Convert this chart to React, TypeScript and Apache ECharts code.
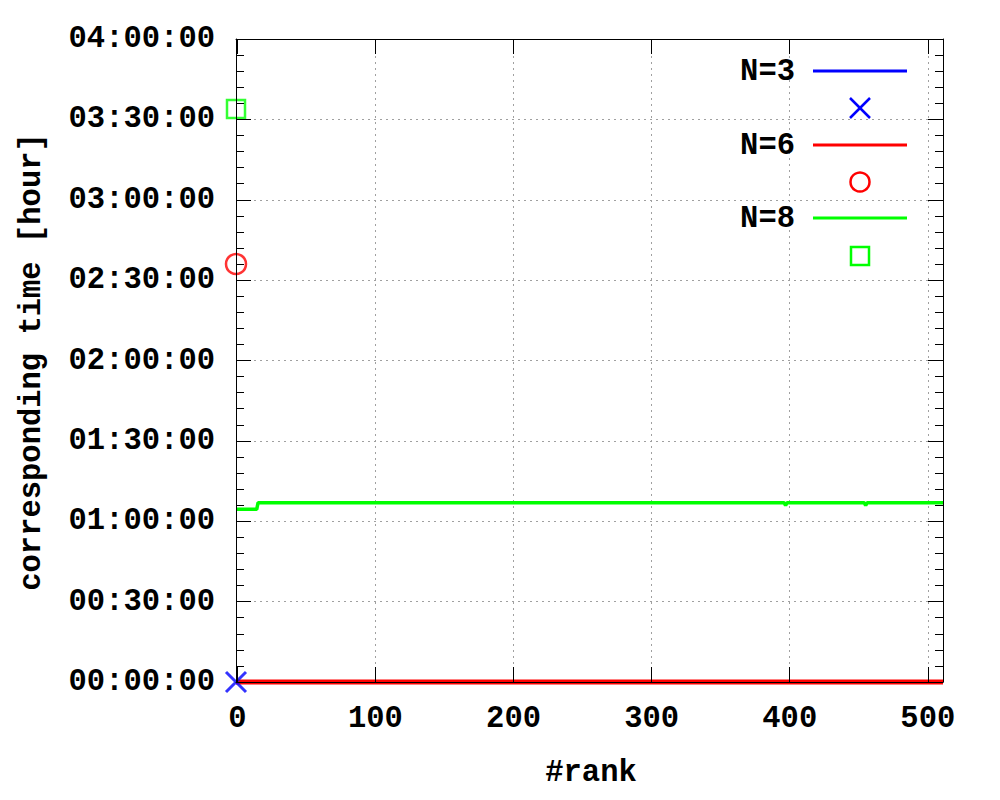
import React, { useEffect, useRef } from "react";
import * as echarts from "echarts";

const seriesNames = ["N=3", "N=6", "N=8"];
const seriesColors = ["#0000ff", "#ff0000", "#00ff00"];

const xTickValues = [0, 100, 200, 300, 400, 500];
const xGridValues = [100, 200, 300, 400, 500];
const yGridValues = [1800, 3600, 5400, 7200, 9000, 10800, 12600];

// [rank, seconds]
const n3Line = [[-1, 0], [511, 0]];
const n6Line = [[-1, 0], [511, 0]];
const n8Line = [
  [-1, 3867], [14, 3867], [15, 4015], [396, 4015], [397, 3950], [398, 4015],
  [454, 4015], [455, 3950], [456, 4015], [511, 4015],
];
const n3Points = [[-1, 0]];
const n6Points = [[-1, 9361]];
const n8Points = [[-1, 12832]];

const FONT = '"Liberation Mono", "DejaVu Sans Mono", monospace';
const FS = 30.5;

function hms(v: number) {
  const h = Math.floor(v / 3600);
  const m = Math.floor((v % 3600) / 60);
  const s = Math.floor(v % 60);
  const p = (n: number) => String(n).padStart(2, "0");
  return `${p(h)}:${p(m)}:${p(s)}`;
}

export default function App() {
  const ref = useRef<HTMLDivElement>(null);
  useEffect(() => {
    const chart = echarts.init(ref.current!, null, { renderer: "svg" });
    const gridStyle = { color: "#a0a0a0", width: 1, type: [2, 4] as any };
    const axisCommon = {
      min: -1,
      max: 511,
      z: 10,
      axisLine: { show: true, onZero: false, lineStyle: { color: "#000", width: 1 } },
      splitLine: { show: false },
    };
    const yCommon = {
      min: 0,
      max: 14400,
      interval: 1800,
      z: 10,
      axisLine: { show: true, onZero: false, lineStyle: { color: "#000", width: 1 } },
      axisTick: { show: true, inside: true, length: 15, lineStyle: { color: "#000", width: 1 } },
      minorTick: { show: true, splitNumber: 5, length: 8, lineStyle: { color: "#000", width: 1 } },
      splitLine: { show: false },
    };
    const legendEls: any[] = [];
    const legendYs = [71, 145, 218];
    const markerYs = [108, 182, 256];
    seriesNames.forEach((name, i) => {
      legendEls.push({
        type: "text",
        z: 20,
        style: {
          text: name, x: 795, y: legendYs[i] + 1, align: "right", verticalAlign: "middle",
          fontFamily: FONT, fontWeight: "bold", fontSize: FS, fill: "#000",
        },
      });
      legendEls.push({
        type: "line", z: 20,
        shape: { x1: 813, y1: legendYs[i], x2: 907, y2: legendYs[i] },
        style: { stroke: seriesColors[i], lineWidth: 3 },
      });
    });
    legendEls.push(
      { type: "line", z: 20, shape: { x1: 850, y1: 98, x2: 870, y2: 118 }, style: { stroke: seriesColors[0], lineWidth: 2.5 } },
      { type: "line", z: 20, shape: { x1: 870, y1: 98, x2: 850, y2: 118 }, style: { stroke: seriesColors[0], lineWidth: 2.5 } },
      { type: "circle", z: 20, shape: { cx: 860, cy: markerYs[1], r: 9.5 }, style: { fill: "none", stroke: seriesColors[1], lineWidth: 2.5 } },
      { type: "rect", z: 20, shape: { x: 851, y: markerYs[2] - 9, width: 18, height: 18 }, style: { fill: "none", stroke: seriesColors[2], lineWidth: 2.5 } }
    );

    chart.setOption({
      animation: false,
      grid: { left: 236, right: 57, top: 39, bottom: 118, containLabel: false },
      xAxis: [
        {
          ...axisCommon,
          type: "value",
          position: "bottom",
          axisTick: { show: true, inside: true, length: 15, customValues: xTickValues, lineStyle: { color: "#000" } },
          axisLabel: {
            show: true, customValues: xTickValues, margin: 21,
            fontFamily: FONT, fontWeight: "bold", fontSize: FS, color: "#000",
          },
        },
        {
          ...axisCommon,
          type: "value",
          position: "top",
          axisTick: { show: true, inside: true, length: 15, customValues: xTickValues, lineStyle: { color: "#000" } },
          axisLabel: { show: false },
        },
      ],
      yAxis: [
        {
          ...yCommon,
          type: "value",
          position: "left",
          axisLabel: {
            show: true, margin: 21, formatter: (v: number) => hms(v),
            fontFamily: FONT, fontWeight: "bold", fontSize: FS, color: "#000",
          },
        },
        {
          ...yCommon,
          type: "value",
          position: "right",
          axisLabel: { show: false },
        },
      ],
      graphic: [
        { type: "rect", z: 1, shape: { x: 740, y: 45, width: 187, height: 230 }, style: { fill: "#fff" } },
        ...legendEls,
        {
          type: "text", z: 20, x: 32, y: 362, rotation: Math.PI / 2,
          style: {
            text: "corresponding time [hour]", x: 0, y: 0, align: "center", verticalAlign: "middle",
            fontFamily: FONT, fontWeight: "bold", fontSize: FS, fill: "#000",
          },
        },
        {
          type: "text", z: 20,
          style: {
            text: "#rank", x: 591, y: 773, align: "center", verticalAlign: "middle",
            fontFamily: FONT, fontWeight: "bold", fontSize: FS, fill: "#000",
          },
        },
      ],
      series: [
        {
          type: "line", name: "grid", z: 0, silent: true, data: [], showSymbol: false,
          markLine: {
            silent: true, symbol: ["none", "none"], label: { show: false },
            lineStyle: gridStyle, emphasis: { disabled: true },
            data: [
              ...xGridValues.map((v) => ({ xAxis: v })),
              ...yGridValues.map((v) => ({ yAxis: v })),
            ],
          },
        },
        {
          type: "line", name: seriesNames[0], z: 3, data: n3Line, showSymbol: false,
          lineStyle: { color: seriesColors[0], width: 3 }, clip: false,
        },
        {
          type: "line", name: seriesNames[1], z: 4, data: n6Line, showSymbol: false,
          lineStyle: { color: seriesColors[1], width: 5 }, clip: false,
        },
        {
          type: "line", name: seriesNames[2], z: 5, data: n8Line, showSymbol: false,
          lineStyle: { color: seriesColors[2], width: 3.5 }, clip: false,
        },
        {
          type: "scatter", name: seriesNames[0] + " pts", z: 6, data: n3Points, clip: false,
          symbol: "path://M0,0L10,10M10,0L0,10", symbolSize: 20,
          itemStyle: { color: "none", borderColor: seriesColors[0], borderWidth: 3 },
        },
        {
          type: "scatter", name: seriesNames[1] + " pts", z: 6, data: n6Points, clip: false,
          symbol: "circle", symbolSize: 20,
          itemStyle: { color: "none", borderColor: seriesColors[1], borderWidth: 2.5 },
        },
        {
          type: "scatter", name: seriesNames[2] + " pts", z: 6, data: n8Points, clip: false,
          symbol: "rect", symbolSize: 18,
          itemStyle: { color: "none", borderColor: seriesColors[2], borderWidth: 2.5 },
        },
      ],
    });
    return () => chart.dispose();
  }, []);
  return (
    <div
      ref={ref}
      style={{ position: "fixed", left: 0, top: 0, width: 1000, height: 800, background: "#fff" }}
    />
  );
}
